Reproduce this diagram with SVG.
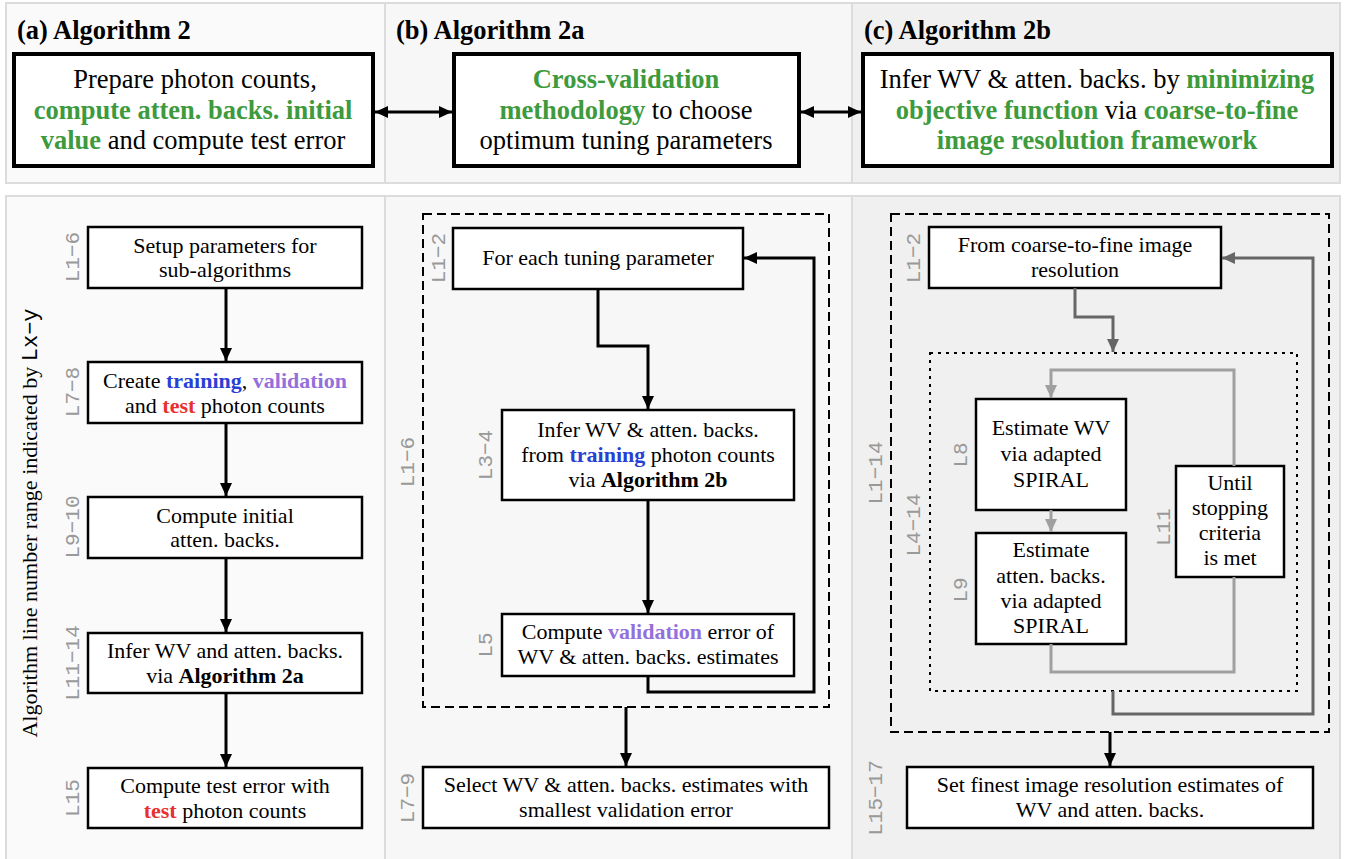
<svg xmlns="http://www.w3.org/2000/svg" width="1347" height="859" viewBox="0 0 1347 859">
<style>
.t,.tt,.h,.v{font-family:'Liberation Serif','Times New Roman',serif;fill:#000}
.t{font-size:22px;text-anchor:middle}
.tt{font-size:26.5px;text-anchor:middle}
.h{font-size:26.5px;font-weight:bold}
.v{font-size:22px;text-anchor:middle}
.lab{font-family:'Liberation Mono','Courier New',monospace;font-size:21px;fill:#999;text-anchor:middle}
.mono{font-family:'Liberation Mono','Courier New',monospace}
.b{font-weight:bold}
.g{fill:#3d9a3d;font-weight:bold}
.bl{fill:#2a3fd4;font-weight:bold}
.pu{fill:#9370db;font-weight:bold}
.rd{fill:#e8302e;font-weight:bold}
.box{fill:#fff;stroke:#000;stroke-width:2.5}
.big{fill:#fff;stroke:#000;stroke-width:4}
.pan{stroke:#dcdcdc;stroke-width:2}
.k{fill:none;stroke:#000;stroke-width:3}
.dg{fill:none;stroke:#666;stroke-width:3}
.lg{fill:none;stroke:#a0a0a0;stroke-width:3}
</style>
<defs>
<marker id="ak" viewBox="0 0 13 12" refX="13" refY="6" markerWidth="13" markerHeight="12" markerUnits="userSpaceOnUse" orient="auto-start-reverse"><path d="M0,0L13,6L0,12z" fill="#000"/></marker>
<marker id="adg" viewBox="0 0 13 12" refX="13" refY="6" markerWidth="13" markerHeight="12" markerUnits="userSpaceOnUse" orient="auto"><path d="M0,0L13,6L0,12z" fill="#666"/></marker>
<marker id="alg" viewBox="0 0 13 12" refX="13" refY="6" markerWidth="13" markerHeight="12" markerUnits="userSpaceOnUse" orient="auto"><path d="M0,0L13,6L0,12z" fill="#a0a0a0"/></marker>
</defs>
<rect width="1347" height="859" fill="#fff"/>
<g id="panels">
<rect class="pan" x="6" y="3" width="379" height="180" fill="#fafafa"/>
<rect class="pan" x="385" y="3" width="467" height="180" fill="#f7f7f7"/>
<rect class="pan" x="852" y="3" width="488" height="180" fill="#f0f0f0"/>
<rect class="pan" x="6" y="196" width="379" height="670" fill="#fafafa"/>
<rect class="pan" x="385" y="196" width="467" height="670" fill="#f7f7f7"/>
<rect class="pan" x="852" y="196" width="488" height="670" fill="#f0f0f0"/>
<text class="h" x="17" y="39">(a) Algorithm 2</text>
<text class="h" x="396" y="39">(b) Algorithm 2a</text>
<text class="h" x="864" y="39">(c) Algorithm 2b</text>
<text class="v" transform="translate(37,523) rotate(-90)">Algorithm line number range indicated by <tspan class="mono">Lx−y</tspan></text>
</g>
<g id="top-a">
<rect class="big" x="14" y="54" width="359" height="112"/>
<text class="tt" x="195" y="88">Prepare photon counts,</text>
<text class="tt" x="193" y="119"><tspan class="g">compute atten. backs. initial</tspan></text>
<text class="tt" x="193" y="149"><tspan class="g">value</tspan> and compute test error</text>
</g>
<g id="top-b">
<rect class="big" x="454" y="54" width="345" height="112"/>
<text class="tt" x="626" y="88"><tspan class="g">Cross-validation</tspan></text>
<text class="tt" x="626" y="119"><tspan class="g">methodology</tspan> to choose</text>
<text class="tt" x="626" y="149">optimum tuning parameters</text>
</g>
<g id="top-c">
<rect class="big" x="863" y="54" width="469" height="112"/>
<text class="tt" x="1097" y="88">Infer WV &amp; atten. backs. by <tspan class="g">minimizing</tspan></text>
<text class="tt" x="1097" y="119"><tspan class="g">objective function</tspan> via <tspan class="g">coarse-to-fine</tspan></text>
<text class="tt" x="1097" y="149"><tspan class="g">image resolution framework</tspan></text>
</g>
<g id="a1">
<rect class="box" x="88" y="227" width="274" height="61"/>
<text class="t" x="225" y="253">Setup parameters for</text>
<text class="t" x="225" y="277">sub-algorithms</text>
<text class="lab" transform="translate(79,257) rotate(-90)">L1−6</text>
</g>
<g id="a2">
<rect class="box" x="88" y="362" width="274" height="61"/>
<text class="t" x="225" y="388">Create <tspan class="bl">training</tspan>, <tspan class="pu">validation</tspan></text>
<text class="t" x="225" y="413">and <tspan class="rd">test</tspan> photon counts</text>
<text class="lab" transform="translate(79,392) rotate(-90)">L7−8</text>
</g>
<g id="a3">
<rect class="box" x="88" y="497" width="274" height="61"/>
<text class="t" x="225" y="523">Compute initial</text>
<text class="t" x="225" y="547">atten. backs.</text>
<text class="lab" transform="translate(79,527) rotate(-90)">L9−10</text>
</g>
<g id="a4">
<rect class="box" x="88" y="633" width="274" height="60"/>
<text class="t" x="225" y="658">Infer WV and  atten. backs.</text>
<text class="t" x="225" y="683">via <tspan class="b">Algorithm 2a</tspan></text>
<text class="lab" transform="translate(79,663) rotate(-90)">L11−14</text>
</g>
<g id="a5">
<rect class="box" x="88" y="768" width="274" height="60"/>
<text class="t" x="225" y="793">Compute test error with</text>
<text class="t" x="225" y="818"><tspan class="rd">test</tspan> photon counts</text>
<text class="lab" transform="translate(79,798) rotate(-90)">L15</text>
</g>
<g id="b-loop">
<rect x="423" y="214" width="406" height="493" fill="none" stroke="#000" stroke-width="2" stroke-dasharray="9,5"/>
<text class="lab" transform="translate(414,462) rotate(-90)">L1−6</text>
</g>
<g id="b1">
<rect class="box" x="453" y="228" width="290" height="61"/>
<text class="t" x="598" y="265">For each tuning parameter</text>
<text class="lab" transform="translate(445,258) rotate(-90)">L1−2</text>
</g>
<g id="b2">
<rect class="box" x="502" y="410" width="292" height="90"/>
<text class="t" x="648" y="437">Infer WV &amp; atten. backs.</text>
<text class="t" x="648" y="462">from <tspan class="bl">training</tspan> photon counts</text>
<text class="t" x="648" y="487">via <tspan class="b">Algorithm 2b</tspan></text>
<text class="lab" transform="translate(492,455) rotate(-90)">L3−4</text>
</g>
<g id="b3">
<rect class="box" x="502" y="614" width="292" height="62"/>
<text class="t" x="648" y="639">Compute <tspan class="pu">validation</tspan> error of</text>
<text class="t" x="648" y="664">WV &amp; atten. backs. estimates</text>
<text class="lab" transform="translate(492,645) rotate(-90)">L5</text>
</g>
<g id="b4">
<rect class="box" x="423" y="767" width="406" height="61"/>
<text class="t" x="626" y="792">Select WV &amp; atten. backs. estimates with</text>
<text class="t" x="626" y="817">smallest validation error</text>
<text class="lab" transform="translate(414,798) rotate(-90)">L7−9</text>
</g>
<g id="c-outer">
<rect x="891" y="214" width="438" height="518" fill="none" stroke="#000" stroke-width="2" stroke-dasharray="9,5"/>
<text class="lab" transform="translate(882,473) rotate(-90)">L1−14</text>
</g>
<g id="c-inner">
<rect x="930" y="353" width="367" height="338" fill="none" stroke="#000" stroke-width="2" stroke-dasharray="3,5"/>
<text class="lab" transform="translate(920,525) rotate(-90)">L4−14</text>
</g>
<g id="c1">
<rect class="box" x="929" y="227" width="292" height="61"/>
<text class="t" x="1075" y="252">From coarse-to-fine image</text>
<text class="t" x="1075" y="277">resolution</text>
<text class="lab" transform="translate(920,258) rotate(-90)">L1−2</text>
</g>
<g id="c2">
<rect class="box" x="976" y="399" width="150" height="111"/>
<text class="t" x="1051" y="435">Estimate WV</text>
<text class="t" x="1051" y="461">via adapted</text>
<text class="t" x="1051" y="487">SPIRAL</text>
<text class="lab" transform="translate(967,455) rotate(-90)">L8</text>
</g>
<g id="c3">
<rect class="box" x="976" y="533" width="150" height="111"/>
<text class="t" x="1051" y="557">Estimate</text>
<text class="t" x="1051" y="583">atten. backs.</text>
<text class="t" x="1051" y="608">via adapted</text>
<text class="t" x="1051" y="633">SPIRAL</text>
<text class="lab" transform="translate(967,590) rotate(-90)">L9</text>
</g>
<g id="c4">
<rect class="box" x="1176" y="466" width="108" height="111"/>
<text class="t" x="1230" y="490">Until</text>
<text class="t" x="1230" y="515">stopping</text>
<text class="t" x="1230" y="540">criteria</text>
<text class="t" x="1230" y="565">is met</text>
<text class="lab" transform="translate(1170,527) rotate(-90)">L11</text>
</g>
<g id="c5">
<rect class="box" x="907" y="767" width="406" height="61"/>
<text class="t" x="1110" y="792">Set finest image resolution estimates of</text>
<text class="t" x="1110" y="817">WV and atten. backs.</text>
<text class="lab" transform="translate(882,798) rotate(-90)">L15−17</text>
</g>
<g id="connectors">
<path class="k" d="M375,112H452" marker-start="url(#ak)" marker-end="url(#ak)"/>
<path class="k" d="M801,112H861" marker-start="url(#ak)" marker-end="url(#ak)"/>
<path class="k" d="M226,288V361" marker-end="url(#ak)"/>
<path class="k" d="M226,423V496" marker-end="url(#ak)"/>
<path class="k" d="M226,558V632" marker-end="url(#ak)"/>
<path class="k" d="M226,693V767" marker-end="url(#ak)"/>
<path class="k" d="M598,289V346H648V409" marker-end="url(#ak)"/>
<path class="k" d="M648,500V613" marker-end="url(#ak)"/>
<path class="k" d="M648,676V692H814V258H744" marker-end="url(#ak)"/>
<path class="k" d="M626,707V766" marker-end="url(#ak)"/>
<path class="dg" d="M1075,288V317H1113V352" marker-end="url(#adg)"/>
<path class="lg" d="M1234,466V370H1051V398" marker-end="url(#alg)"/>
<path class="lg" d="M1051,510V532" marker-end="url(#alg)"/>
<path class="lg" d="M1051,644V672H1234V577"/>
<path class="dg" d="M1113,691V714H1313V258H1222" marker-end="url(#adg)"/>
<path class="k" d="M1110,732V766" marker-end="url(#ak)"/>
</g>
</svg>
